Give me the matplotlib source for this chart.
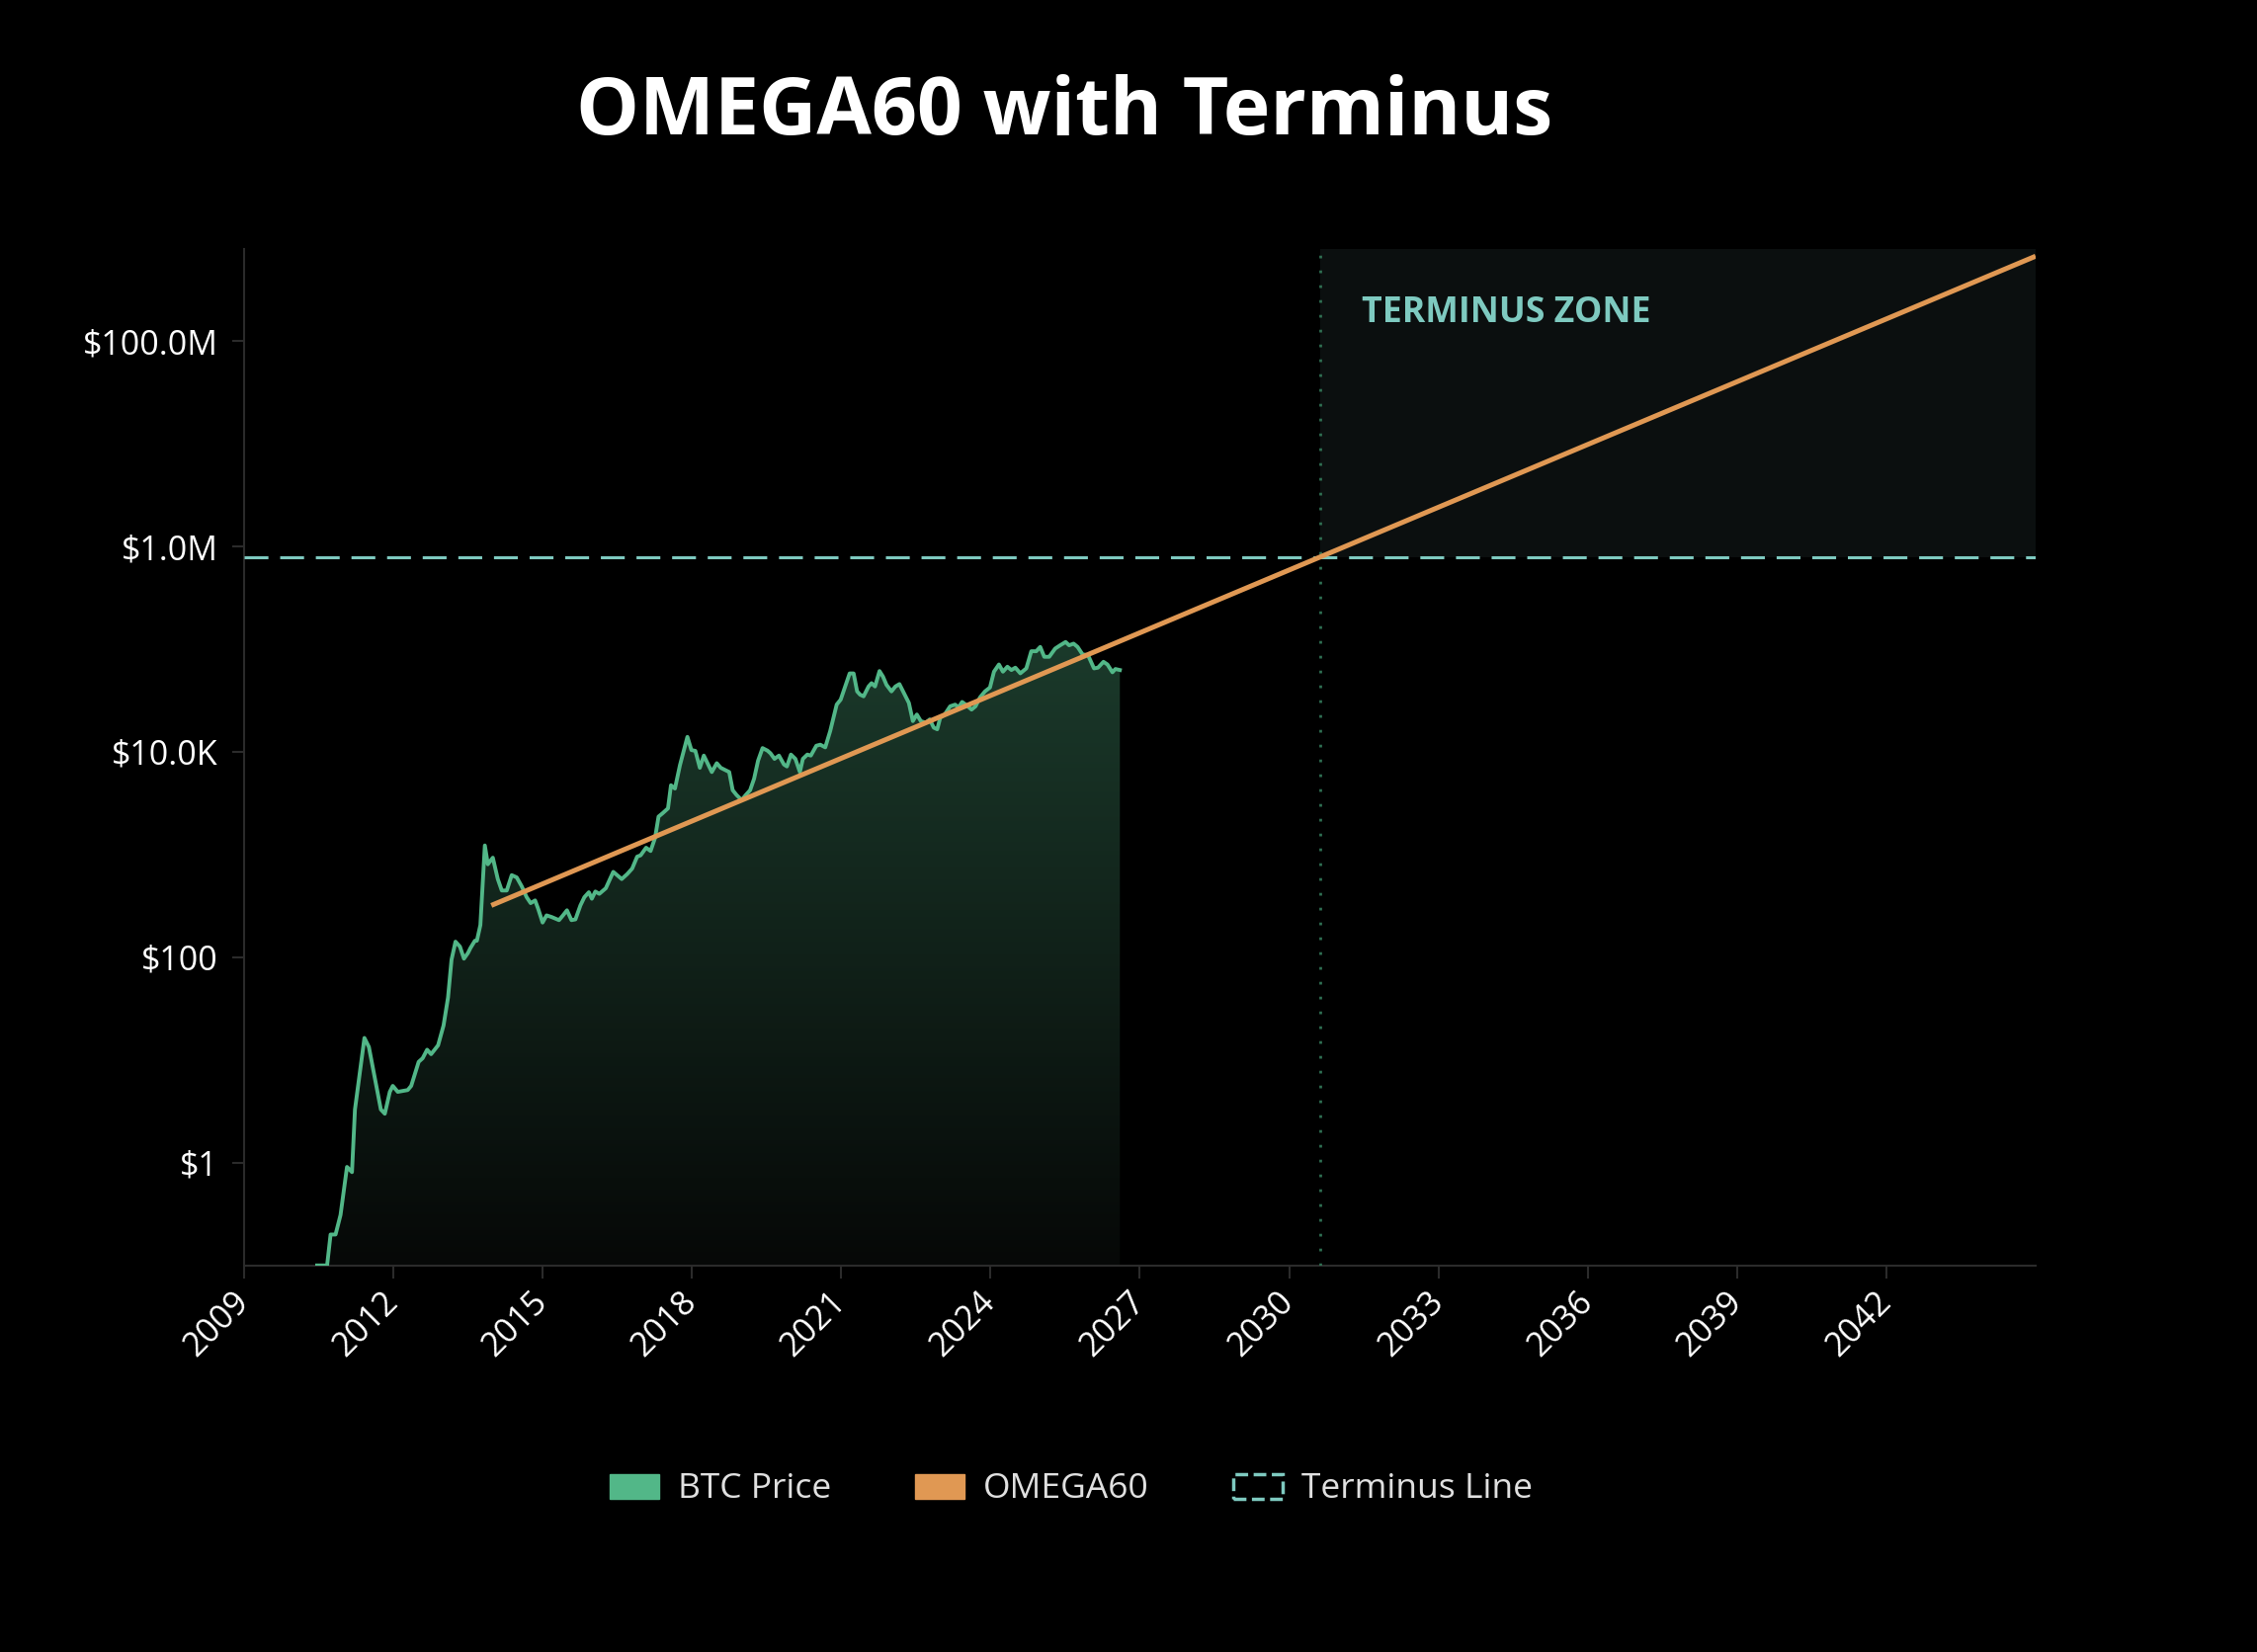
import numpy as np
import matplotlib
matplotlib.use("Agg")
import matplotlib.pyplot as plt
from matplotlib.patches import Patch
from matplotlib.colors import LinearSegmentedColormap

plt.rcParams['font.family'] = ['Open Sans', 'DejaVu Sans']

# BTC price (decimal year, USD)
btc_year = [2010.47, 2010.67, 2010.74, 2010.84, 2010.94, 2011.07, 2011.17, 2011.23, 2011.42, 2011.51,
            2011.75, 2011.83, 2011.93, 2011.99, 2012.09, 2012.29, 2012.36, 2012.51, 2012.59, 2012.68,
            2012.76, 2012.90, 2013.01, 2013.10, 2013.17, 2013.25, 2013.34, 2013.42, 2013.50, 2013.55,
            2013.64, 2013.68, 2013.75, 2013.84, 2013.90, 2014.00, 2014.10, 2014.18, 2014.28, 2014.38,
            2014.48, 2014.58, 2014.68, 2014.76, 2014.85, 2014.91, 2015.00, 2015.08, 2015.18, 2015.33,
            2015.41, 2015.49, 2015.58, 2015.66, 2015.76, 2015.84, 2015.93, 2015.99, 2016.06, 2016.14,
            2016.27, 2016.42, 2016.59, 2016.70, 2016.80, 2016.90, 2016.97, 2017.08, 2017.17, 2017.26,
            2017.33, 2017.41, 2017.52, 2017.58, 2017.66, 2017.76, 2017.91, 2017.99, 2018.07, 2018.16,
            2018.24, 2018.32, 2018.40, 2018.50, 2018.58, 2018.75, 2018.82, 2018.90, 2019.00, 2019.08,
            2019.17, 2019.25, 2019.33, 2019.42, 2019.52, 2019.58, 2019.66, 2019.75, 2019.85, 2019.91,
            2019.99, 2020.08, 2020.17, 2020.23, 2020.32, 2020.39, 2020.50, 2020.58, 2020.68, 2020.78,
            2020.91, 2020.99, 2021.08, 2021.17, 2021.25, 2021.32, 2021.38, 2021.45, 2021.55, 2021.61,
            2021.68, 2021.77, 2021.84, 2021.91, 2022.01, 2022.09, 2022.17, 2022.27, 2022.36, 2022.44,
            2022.52, 2022.60, 2022.70, 2022.78, 2022.86, 2022.93, 2022.99, 2023.08, 2023.19, 2023.29,
            2023.36, 2023.43, 2023.52, 2023.62, 2023.70, 2023.79, 2023.89, 2023.99, 2024.07, 2024.17,
            2024.25, 2024.34, 2024.42, 2024.50, 2024.60, 2024.72, 2024.82, 2024.92, 2025.00, 2025.08,
            2025.18, 2025.30, 2025.40, 2025.51, 2025.58, 2025.67, 2025.75, 2025.85, 2025.96, 2026.08,
            2026.16, 2026.27, 2026.35, 2026.45, 2026.51, 2026.60]
btc_price = [0.1, 0.1, 0.20, 0.20, 0.31, 0.91, 0.81, 3.3, 16.4, 13.4,
             3.3, 3.0, 4.9, 5.6, 4.9, 5.1, 5.6, 9.6, 10.4, 12.6,
             11.4, 13.9, 21.7, 40.6, 94.6, 142, 127, 97, 110, 123,
             145, 145, 206, 1227, 805, 933, 578, 447, 447, 631,
             600, 492, 385, 337, 358, 298, 218, 256, 247, 230,
             256, 287, 230, 234, 320, 385, 430, 372, 437, 415,
             470, 679, 578, 646, 731, 955, 984, 1167, 1084, 1455,
             2344, 2523, 2818, 4732, 4395, 7413, 14000, 10420, 10230, 7000,
             9204, 7656, 6368, 7762, 7000, 6368, 4236, 3793, 3396, 3793,
             4236, 5483, 8222, 10890, 10280, 9683, 8551, 9204, 7534, 7211,
             9419, 8551, 6368, 8551, 9419, 9204, 11480, 11750, 11070, 16000,
             28900, 32280, 43350, 58070, 58070, 38820, 36060, 34750, 43350, 46670,
             43350, 61240, 54080, 44980, 38820, 43350, 45710, 36560, 29990, 19950,
             23120, 19950, 19230, 20700, 17220, 16600, 21480, 23120, 27800, 28840,
             27160, 30620, 28440, 25820, 27800, 33960, 38820, 42360, 60390, 70960,
             60390, 67450, 62660, 66070, 58210, 65010, 95500, 95500, 105200, 84330,
             84330, 101400, 109100, 117500, 109100, 113200, 105200, 88920, 87500, 65010,
             66070, 75340, 70960, 59570, 64120, 62660]

# OMEGA60 trend line (straight on the log axis)
omega_year = [2013.97, 2045.0]
omega_price = [320, 6.7e8]

terminus_price = 7.9e5
terminus_year = 2030.62

x_ticks = [2009, 2012, 2015, 2018, 2021, 2024, 2027, 2030, 2033, 2036, 2039, 2042]
y_ticks = [1, 100, 1e4, 1e6, 1e8]
y_labels = ['$1', '$100', '$10.0K', '$1.0M', '$100.0M']

green = '#52b788'
orange = '#e09853'
teal = '#7ecac0'
axis_col = '#2b2b2b'
y_top = 7.94e8

fig = plt.figure(figsize=(22.84, 16.72), dpi=100, facecolor='black')
ax = fig.add_axes([0.1081, 0.234, 0.7938, 0.6155])
ax.set_facecolor('black')
ax.set_yscale('log')
ax.set_xlim(2009, 2045)
ax.set_ylim(0.1, y_top)
ax.autoscale(False)

# terminus zone
ax.fill_between([terminus_year, 2045], terminus_price, y_top, color='#0b0f0f', lw=0, zorder=0)

# gradient fill under btc
poly = ax.fill_between(btc_year, btc_price, 1e-3, color='none', lw=0)
top_frac = (np.log10(max(btc_price)) + 1) / (np.log10(y_top) + 1)
cmap = LinearSegmentedColormap.from_list('g', ['#060807', '#1b3a2b'])
grad = np.linspace(0, 1, 256).reshape(-1, 1)
img = ax.imshow(grad, cmap=cmap, origin='lower', aspect='auto', extent=[0, 1, 0, top_frac],
                transform=ax.transAxes, zorder=1, interpolation='bilinear')
img.set_clip_path(poly.get_paths()[0], transform=ax.transData)
ax.set_xlim(2009, 2045)
ax.set_ylim(0.1, y_top)

ax.axhline(terminus_price, color=teal, lw=2.2, ls=(0, (7.9, 3.9)), zorder=3)
ax.axvline(terminus_year, color='#2f6f52', lw=2.0, ls=(0, (1, 4.4)), zorder=3)
ax.plot(btc_year, btc_price, color=green, lw=2.8, zorder=4)
ax.plot(omega_year, omega_price, color=orange, lw=3.6, zorder=5, solid_capstyle='butt')

ax.text(2031.45, 1.86e8, 'TERMINUS ZONE', color=teal, fontsize=25.7, fontweight='bold',
        ha='left', va='center', zorder=6)

for s in ['top', 'right']:
    ax.spines[s].set_visible(False)
for s in ['left', 'bottom']:
    ax.spines[s].set_color(axis_col)
    ax.spines[s].set_linewidth(1.5)

ax.set_xticks(x_ticks)
ax.set_xticklabels([str(y) for y in x_ticks], rotation=45, ha='right', va='center',
                   rotation_mode='anchor')
ax.set_yticks(y_ticks)
ax.set_yticklabels(y_labels, fontweight='medium')
ax.minorticks_off()
ax.tick_params(axis='both', colors=axis_col, length=9, width=1.5, labelsize=24.5, labelcolor='white')
ax.tick_params(axis='y', pad=10)
ax.tick_params(axis='x', pad=14)

fig.text(0.4716, 0.931, 'OMEGA60 with Terminus', color='white', fontsize=58, fontweight='bold',
         ha='center', va='center')

handles = [Patch(facecolor=green, edgecolor=green),
           Patch(facecolor=orange, edgecolor=orange),
           Patch(facecolor='none', edgecolor=teal, linestyle='--', linewidth=2.5)]
fig.legend(handles, ['BTC Price', 'OMEGA60', 'Terminus Line'], loc='center',
           bbox_to_anchor=(0.4745, 0.0984), ncol=3, frameon=False, fontsize=25.5,
           labelcolor='#e0e0e0', handlelength=1.41, handleheight=0.71,
           handletextpad=0.54, columnspacing=2.4)

fig.savefig('out.png', dpi=100, facecolor='black')
